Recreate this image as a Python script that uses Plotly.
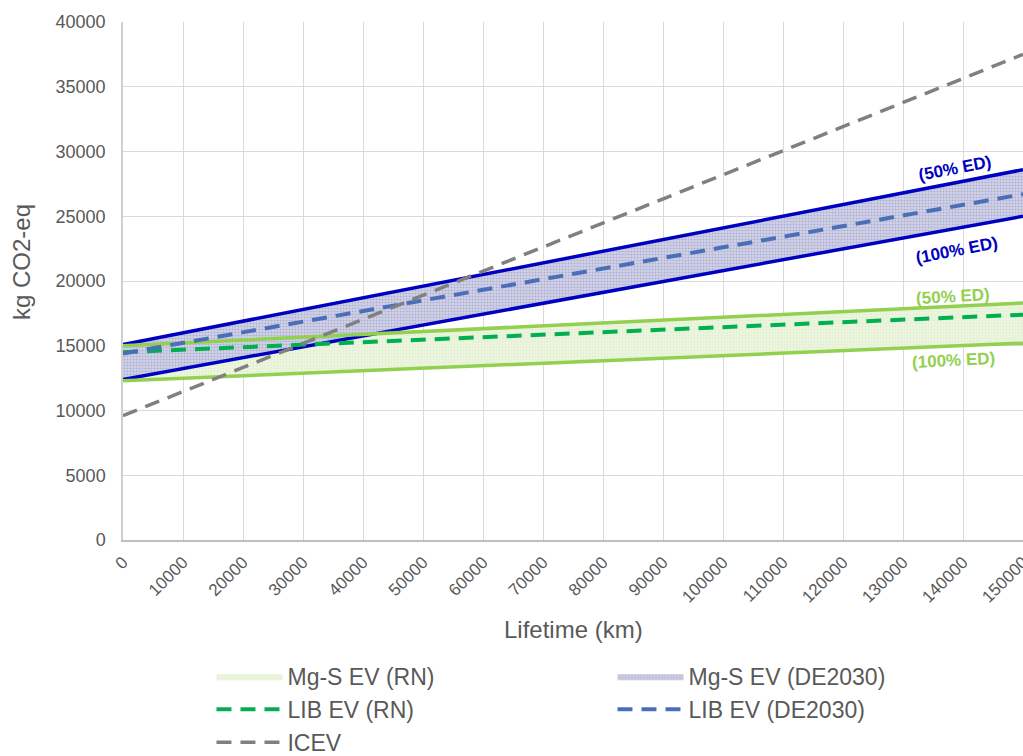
import plotly.graph_objects as go

# Lifetime distance (km) at the start and end of the horizon
lifetime_km = [0, 150000]

# Cumulative life-cycle emissions (kg CO2-eq) at 0 km and 150000 km
mgs_rn_50ed = [15000, 18300]
mgs_rn_100ed = [12300, 15200]
mgs_de_50ed = [15100, 28600]
mgs_de_100ed = [12400, 25000]
lib_rn = [14500, 17400]
lib_de = [14400, 26700]
icev = [9600, 37500]

x_ticks = list(range(0, 150001, 10000))
y_ticks = list(range(0, 40001, 5000))

FONT = "Liberation Sans, Arial, sans-serif"
GREY_TXT = "#595959"
GREEN_LINE = "#92d050"
GREEN_DASH = "#00b050"
BLUE_LINE = "#0000c0"
BLUE_DASH = "#4a6fb8"
ICEV_GREY = "#808080"
DASH = "15px,9px"

fig = go.Figure()

# Shaded bands between the 100% ED and 50% ED scenarios
fig.add_trace(go.Scatter(
    x=lifetime_km + lifetime_km[::-1],
    y=mgs_rn_100ed + mgs_rn_50ed[::-1],
    fill="toself", mode="lines", line=dict(width=0),
    fillcolor="#e9f3dc",
    fillpattern=dict(shape=".", bgcolor="#ecf5e1", fgcolor="#d3e8b8", size=3, solidity=0.35),
    name="Mg-S EV (RN)", hoverinfo="skip",
))
fig.add_trace(go.Scatter(
    x=lifetime_km + lifetime_km[::-1],
    y=mgs_de_100ed + mgs_de_50ed[::-1],
    fill="toself", mode="lines", line=dict(width=0),
    fillcolor="#c9cae0",
    fillpattern=dict(shape=".", bgcolor="#d3d4e7", fgcolor="#8a8bbc", size=3, solidity=0.4),
    name="Mg-S EV (DE2030)", hoverinfo="skip",
))

# Band borders
for ys in (mgs_de_50ed, mgs_de_100ed):
    fig.add_trace(go.Scatter(x=lifetime_km, y=ys, mode="lines",
                             line=dict(color=BLUE_LINE, width=3.5), showlegend=False))
for ys in (mgs_rn_50ed, mgs_rn_100ed):
    fig.add_trace(go.Scatter(x=lifetime_km, y=ys, mode="lines",
                             line=dict(color=GREEN_LINE, width=3.5), showlegend=False))

# Reference vehicles
fig.add_trace(go.Scatter(x=lifetime_km, y=lib_rn, mode="lines", name="LIB EV (RN)",
                         line=dict(color=GREEN_DASH, width=4, dash=DASH)))
fig.add_trace(go.Scatter(x=lifetime_km, y=lib_de, mode="lines", name="LIB EV (DE2030)",
                         line=dict(color=BLUE_DASH, width=4, dash=DASH)))
fig.add_trace(go.Scatter(x=lifetime_km, y=icev, mode="lines", name="ICEV",
                         line=dict(color=ICEV_GREY, width=3.5, dash=DASH)))

# Scenario labels at the right end of the bands
band_labels = [
    ("(50% ED)", 138667, 28726, BLUE_LINE, -11),
    ("(100% ED)", 138833, 22394, BLUE_LINE, -11),
    ("(50% ED)", 138333, 18842, GREEN_LINE, -3),
    ("(100% ED)", 138333, 13900, GREEN_LINE, -3),
]
annotations = [
    dict(x=x, y=y, xref="x", yref="y", text=f"<b>{t}</b>", showarrow=False,
         textangle=a, font=dict(family=FONT, size=17, color=c))
    for t, x, y, c, a in band_labels
]
annotations += [
    dict(x=-0.1122, y=0.5367, xref="paper", yref="paper", text="kg CO2-eq",
         xanchor="center", yanchor="middle",
         showarrow=False, textangle=-90, font=dict(family=FONT, size=24, color=GREY_TXT)),
    dict(x=0.501, y=-0.1737, xref="paper", yref="paper", text="Lifetime (km)",
         xanchor="center", yanchor="middle",
         showarrow=False, font=dict(family=FONT, size=24, color=GREY_TXT)),
]

fig.update_layout(
    width=1023, height=756,
    margin=dict(l=123, r=0, t=22, b=216, autoexpand=False),
    paper_bgcolor="white", plot_bgcolor="white",
    font=dict(family=FONT, color=GREY_TXT),
    annotations=annotations,
    legend=dict(
        orientation="h", x=0.0983, xanchor="left", y=-0.2218, yanchor="top",
        font=dict(family=FONT, size=23, color=GREY_TXT),
        entrywidth=320, entrywidthmode="pixels", itemwidth=66,
        bgcolor="rgba(0,0,0,0)", traceorder="normal",
    ),
    xaxis=dict(
        range=[0, 150000], tickvals=x_ticks, ticktext=[str(v) for v in x_ticks],
        tickangle=-45, tickfont=dict(size=17, color=GREY_TXT), ticklabelstandoff=4,
        ticklabeloverflow="allow",
        showgrid=True, gridcolor="#d9d9d9", gridwidth=1.3,
        showline=True, linecolor="#bfbfbf", linewidth=1.5,
        zeroline=False, ticks="", automargin=False, fixedrange=True,
    ),
    yaxis=dict(
        range=[0, 40000], tickvals=y_ticks, ticktext=[str(v) for v in y_ticks],
        tickfont=dict(size=18, color=GREY_TXT), ticklabelstandoff=12,
        showgrid=True, gridcolor="#d9d9d9", gridwidth=1.3,
        showline=True, linecolor="#cfcfcf", linewidth=1.5,
        zeroline=False, ticks="", automargin=False, fixedrange=True,
    ),
)

fig.write_html("out.html")
